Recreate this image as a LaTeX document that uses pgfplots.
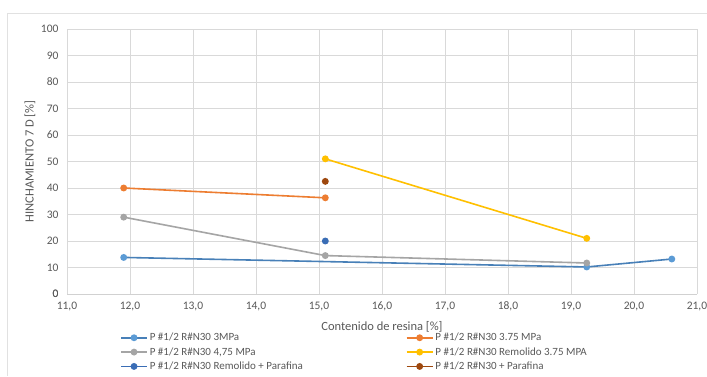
\documentclass[border=0pt]{standalone}
\usepackage{pgfplots}
\pgfplotsset{compat=1.18}
\usepackage{fontspec}
\setmainfont{Carlito}
\definecolor{s1}{HTML}{5B9BD5}
\definecolor{s1l}{RGB}{72,128,184}
\definecolor{s2}{HTML}{ED7D31}
\definecolor{s3}{HTML}{A5A5A5}
\definecolor{s4}{HTML}{FFC000}
\definecolor{s5}{HTML}{3A6DB5}
\definecolor{s6}{HTML}{9E480E}
\definecolor{txt}{HTML}{595959}
\definecolor{grd}{HTML}{D9D9D9}
\begin{document}
\begin{tikzpicture}[x=1pt,y=1pt]
\useasboundingbox (0,0) rectangle (707,376);
\fill[white] (0,0) rectangle (707,376);
\draw[grd!80] (7,363) -- (707,363);
\draw[grd!80] (7,363) -- (7,0);
\begin{axis}[
  at={(67pt,82pt)}, anchor=south west,
  scale only axis, width=630pt, height=265pt,
  xmin=11, xmax=21, ymin=0, ymax=100,
  xtick={11,12,...,21}, ytick={0,10,...,100},
  xticklabel={\pgfmathprintnumber[fixed,fixed zerofill,precision=1,use comma]{\tick}},
  /pgf/number format/assume math mode=true,
  grid=major, grid style={grd, line width=0.8pt},
  axis line style={draw=none},
  axis x line*=bottom,
  extra y ticks={0}, extra y tick style={grid style={draw=grd!120,line width=1pt}},
  tick style={draw=none},
  ticklabel style={font=\fontsize{11.5}{13}\selectfont, text=txt},
  xticklabel style={yshift=-4pt},
  yticklabel style={xshift=-5pt},
  xlabel={Contenido de resina [\%]},
  ylabel={HINCHAMIENTO 7 D [\%]},
  label style={font=\fontsize{12.5}{14}\selectfont, text=txt},
  xlabel style={at={(axis description cs:0.5,0)}, anchor=center, yshift=-33pt},
  ylabel style={at={(axis description cs:-0.0587,0.5)}, anchor=center},
  every axis plot/.append style={line width=1.6pt, mark=*, mark size=2.6pt},
  legend columns=2,
  legend style={at={(axis description cs:0.0794,-0.132)}, anchor=north west, draw=none, fill=none,
    font=\fontsize{11}{12}\selectfont, text=txt,
    /tikz/every even column/.append style={column sep=101pt},
    row sep=1.2pt},
  legend cell align=left,
  legend image code/.code={\draw[#1, mark repeat=2, mark phase=2] plot coordinates {(0pt,0pt) (13pt,0pt) (26pt,0pt)};},
]
\addplot[color=s1l, mark options={fill=s1, draw=s1}] coordinates {(11.9,13.8) (19.25,10.2) (20.6,13.2)};
\addlegendentry{P \#1/2 R\#N30 3MPa}
\addplot[color=s2, mark options={fill=s2}] coordinates {(11.9,40) (15.1,36.3)};
\addlegendentry{P \#1/2 R\#N30 3.75 MPa}
\addplot[color=s3, mark options={fill=s3}] coordinates {(11.9,29) (15.1,14.5) (19.25,11.7)};
\addlegendentry{P \#1/2 R\#N30 4,75 MPa}
\addplot[color=s4, mark options={fill=s4}] coordinates {(15.1,51) (19.25,21)};
\addlegendentry{P \#1/2 R\#N30 Remolido 3.75 MPA}
\addplot[color=s5, mark options={fill=s5}] coordinates {(15.1,20)};
\addlegendentry{P \#1/2 R\#N30 Remolido + Parafina}
\addplot[color=s6, mark options={fill=s6}] coordinates {(15.1,42.5)};
\addlegendentry{P \#1/2 R\#N30 + Parafina}
\end{axis}
\end{tikzpicture}
\end{document}
